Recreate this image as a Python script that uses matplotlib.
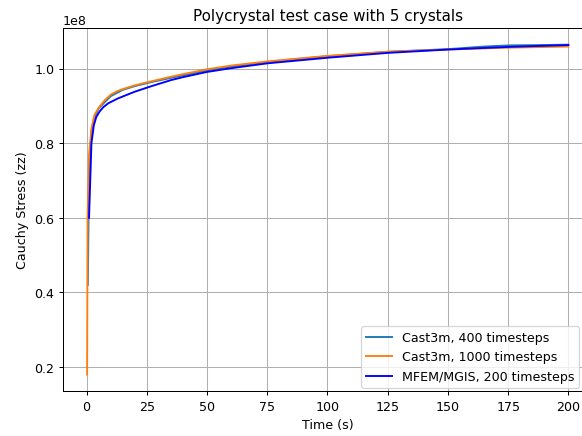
import matplotlib
matplotlib.use("Agg")
import matplotlib.pyplot as plt

# ------------------------------------------------------------
# Values (stress in units of 1e8)
# ------------------------------------------------------------
t_c400 = [0.5, 1, 2, 3, 5, 7.5, 10, 15, 20, 27, 35, 50, 60, 75, 100,
          125, 150, 165, 175, 200]
s_c400 = [0.42, 0.72, 0.83, 0.866, 0.893, 0.910, 0.926, 0.943, 0.953, 0.964,
          0.975, 0.995, 1.005, 1.018, 1.033, 1.045, 1.052, 1.059, 1.062, 1.064]

t_c1000 = [0.2, 0.4, 1, 2, 3.3, 5, 7.5, 10, 12.5, 15, 20, 27, 35, 40, 50,
           60, 75, 90, 100, 125, 150, 175, 200]
s_c1000 = [0.18, 0.60, 0.77, 0.84, 0.876, 0.895, 0.915, 0.930, 0.939, 0.945,
           0.955, 0.966, 0.978, 0.985, 0.998, 1.008, 1.019, 1.028, 1.034,
           1.045, 1.051, 1.056, 1.059]

t_mfem = [1, 2, 3, 4, 5.4, 7, 9, 13, 20, 27, 35, 40, 50, 60, 75, 100, 125,
          150, 175, 200]
s_mfem = [0.600, 0.800, 0.848, 0.870, 0.885, 0.897, 0.907, 0.920, 0.938,
          0.953, 0.969, 0.977, 0.991, 1.001, 1.014, 1.029, 1.042, 1.051,
          1.058, 1.063]

labels = ["Cast3m, 400 timesteps", "Cast3m, 1000 timesteps",
          "MFEM/MGIS, 200 timesteps"]

scale = 1e8

# default 6.4x4.8 figure, rendered at 91 dpi -> ~582x437 px
fig = plt.figure(figsize=(6.4, 4.8), dpi=91)
# axes run slightly past the right edge, as in the cropped original
ax = fig.add_axes([63 / 582, 45 / 437, 529 / 582, 363 / 437])

ax.plot(t_c400, [v * scale for v in s_c400], color="tab:blue", label=labels[0])
ax.plot(t_c1000, [v * scale for v in s_c1000], color="tab:orange", label=labels[1])
ax.plot(t_mfem, [v * scale for v in s_mfem], color="blue", label=labels[2])

ax.set_title("Polycrystal test case with 5 crystals")
ax.set_xlabel("Time (s)")
ax.set_ylabel("Cauchy Stress (zz)")
ax.grid(True)
ax.legend(loc="lower right", bbox_to_anchor=(579 / 582, 48 / 437),
          bbox_transform=fig.transFigure, borderaxespad=0)

fig.savefig("out.png", dpi=91)
